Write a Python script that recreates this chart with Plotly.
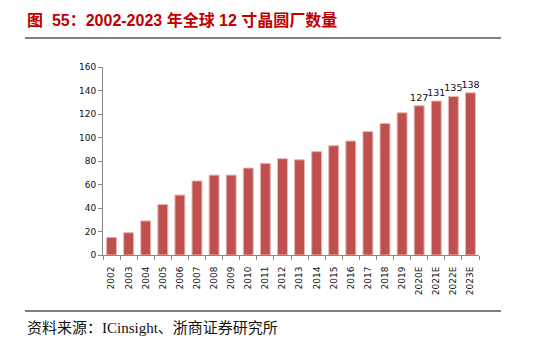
import plotly.graph_objects as go

# Global 12-inch (300mm) fab count, 2002-2023E
years = ["2002", "2003", "2004", "2005", "2006", "2007", "2008", "2009", "2010",
         "2011", "2012", "2013", "2014", "2015", "2016", "2017", "2018", "2019",
         "2020E", "2021E", "2022E", "2023E"]
fabs = [15, 19, 29, 43, 51, 63, 68, 68, 74, 78, 82, 81, 88, 93, 97, 105, 112, 121,
        127, 131, 135, 138]
# only the forecast years carry value labels
labels = ["" for _ in years[:-4]] + [str(v) for v in fabs[-4:]]

W, H = 554, 345
L, R, T, B = 103, 75, 67, 90
pw, ph = W - L - R, H - T - B


def px(x):
    return (x - L) / pw


def py(y):
    return (H - B - y) / ph


fig = go.Figure(go.Bar(
    x=years, y=fabs,
    marker=dict(color="#C0504D", line=dict(color="#E8B4B3", width=1)),
    text=labels, textposition="outside", cliponaxis=False,
    constraintext="none",
    outsidetextfont=dict(family="DejaVu Sans", size=9.5, color="#111111"),
))

fig.update_layout(
    width=W, height=H,
    margin=dict(l=L, r=R, t=T, b=B),
    paper_bgcolor="white", plot_bgcolor="white",
    showlegend=False, bargap=0.42,
    xaxis=dict(
        type="category", tickangle=-90, ticks="outside", tickson="boundaries",
        ticklen=4, tickcolor="#888888", showline=True, linecolor="#888888",
        ticklabelstandoff=7,
        tickfont=dict(family="DejaVu Sans", size=9, color="#111111"),
        showgrid=False,
    ),
    yaxis=dict(
        range=[0, 160], dtick=20, ticks="outside", ticklen=4,
        tickcolor="#888888", showline=True, linecolor="#888888",
        showgrid=False, zeroline=False,
        tickfont=dict(family="DejaVu Sans", size=9, color="#111111"),
    ),
    font=dict(family="Noto Sans CJK SC"),
)

fig.add_annotation(
    text="<b>图  55：2002-2023 年全球 12 寸晶圆厂数量</b>",
    xref="paper", yref="paper", x=px(25), y=py(20),
    xanchor="left", yanchor="middle", showarrow=False,
    font=dict(family="Liberation Sans, Noto Sans CJK SC", size=16, color="#C00000"),
)
fig.add_annotation(
    text="资料来源：ICinsight、浙商证券研究所",
    xref="paper", yref="paper", x=px(25), y=py(328),
    xanchor="left", yanchor="middle", showarrow=False,
    font=dict(family="Liberation Serif, Noto Sans CJK SC", size=15, color="#111111"),
)
for yy in (38, 311):
    fig.add_shape(type="line", xref="paper", yref="paper",
                  x0=px(25), x1=px(501), y0=py(yy), y1=py(yy),
                  line=dict(color="black", width=1))

fig.write_html("out.html")
